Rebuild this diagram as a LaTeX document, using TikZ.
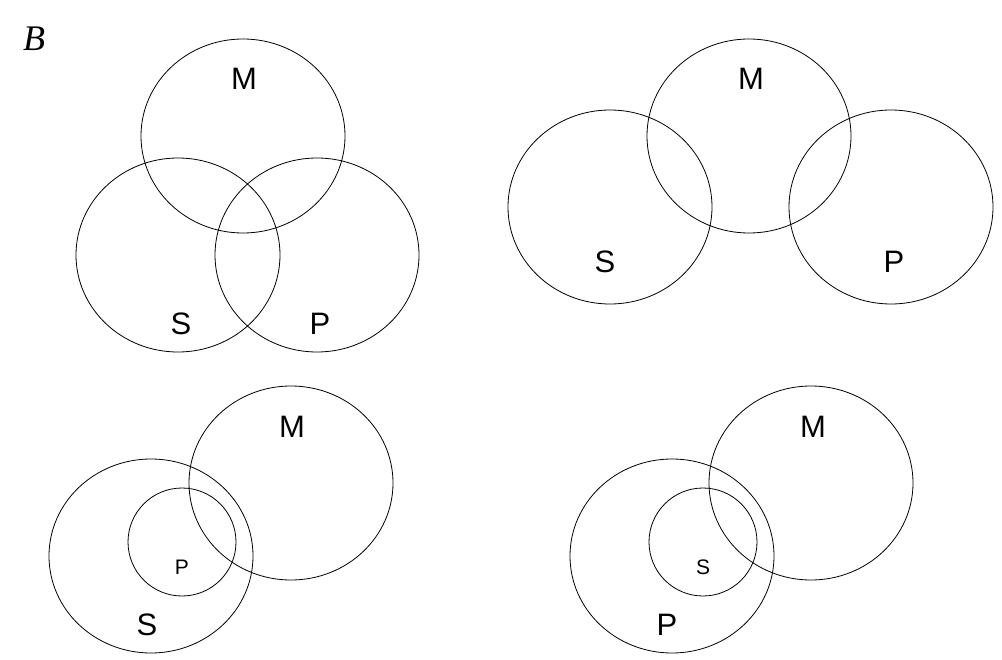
\documentclass[tikz,border=0pt]{standalone}
\usepackage{fontspec}
\setmainfont{Liberation Serif}
\setsansfont{Liberation Sans}
\usetikzlibrary{shapes.geometric, positioning}

\begin{document}
\begin{tikzpicture}[
        x=1bp, y=-1bp,
        set/.style={ellipse, draw=black, line width=0.8bp, inner sep=0pt, minimum width=204bp, minimum height=194bp},
        subset/.style={ellipse, draw=black, line width=0.8bp, inner sep=0pt, minimum width=108bp, minimum height=108bp},
        biglabel/.style={inner sep=0pt, font=\sffamily\fontsize{31bp}{31bp}\selectfont},
        smalllabel/.style={inner sep=0pt, font=\sffamily\fontsize{21bp}{21bp}\selectfont}
    ]
    \useasboundingbox (0,0) rectangle (1002,660);
    \node (title) [inner sep=0pt, font=\fontsize{36bp}{36bp}\selectfont] at (34,38.5) {\textit{B}};

    % Top left
    \node (mA) [set] at (243,136) {};
    \node (sA) [set] at (178,255) {};
    \node (pA) [set] at (317,255) {};
    \node (mAlabel) [biglabel] at (244,79) {M};
    \node (sAlabel) [biglabel] at (181,324) {S};
    \node (pAlabel) [biglabel] at (320,324) {P};

    % Top right
    \node (mB) [set] at (749,136) {};
    \node (sB) [set] at (610,207) {};
    \node (pB) [set] at (891,207) {};
    \node (mBlabel) [biglabel] at (751,79) {M};
    \node (sBlabel) [biglabel] at (605,262) {S};
    \node (pBlabel) [biglabel] at (894,262) {P};

    % Bottom left
    \node (sC) [set] at (151,556) {};
    \node (mC) [set] at (291,483) {};
    \node (pC) [subset] at (182,542) {};
    \node (mClabel) [biglabel] at (292,427) {M};
    \node (pClabel) [smalllabel] at (182,567) {P};
    \node (sClabel) [biglabel] at (147,625) {S};

    % Bottom right
    \node (pD) [set] at (672,556) {};
    \node (mD) [set] at (811,483) {};
    \node (sD) [subset] at (703,542) {};
    \node (mDlabel) [biglabel] at (813,427) {M};
    \node (sDlabel) [smalllabel] at (703,567) {S};
    \node (pDlabel) [biglabel] at (667,625) {P};
\end{tikzpicture}
\end{document}
